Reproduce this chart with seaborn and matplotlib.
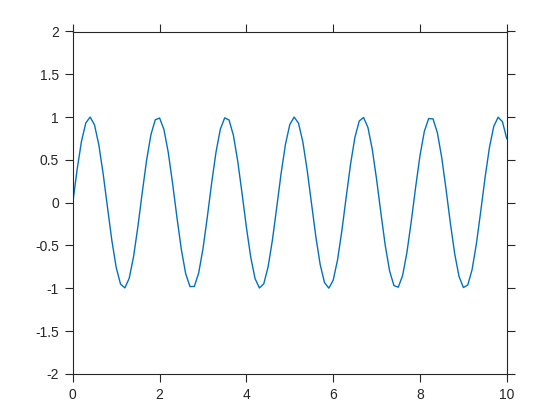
import numpy as np
import pandas as pd
import seaborn as sns
import matplotlib.pyplot as plt

x_vals = [
    0.0, 0.1, 0.2, 0.3, 0.4, 0.5, 0.6, 0.7, 0.8, 0.9,
    1.0, 1.1, 1.2, 1.3, 1.4, 1.5, 1.6, 1.7, 1.8, 1.9,
    2.0, 2.1, 2.2, 2.3, 2.4, 2.5, 2.6, 2.7, 2.8, 2.9,
    3.0, 3.1, 3.2, 3.3, 3.4, 3.5, 3.6, 3.7, 3.8, 3.9,
    4.0, 4.1, 4.2, 4.3, 4.4, 4.5, 4.6, 4.7, 4.8, 4.9,
    5.0, 5.1, 5.2, 5.3, 5.4, 5.5, 5.6, 5.7, 5.8, 5.9,
    6.0, 6.1, 6.2, 6.3, 6.4, 6.5, 6.6, 6.7, 6.8, 6.9,
    7.0, 7.1, 7.2, 7.3, 7.4, 7.5, 7.6, 7.7, 7.8, 7.9,
    8.0, 8.1, 8.2, 8.3, 8.4, 8.5, 8.6, 8.7, 8.8, 8.9,
    9.0, 9.1, 9.2, 9.3, 9.4, 9.5, 9.6, 9.7, 9.8, 9.9,
    10.0,
]
y_vals = [
    0.000, 0.389, 0.717, 0.932, 1.000, 0.909, 0.675, 0.335, -0.058, -0.443,
    -0.757, -0.952, -0.996, -0.883, -0.631, -0.279, 0.117, 0.494, 0.794, 0.968,
    0.989, 0.855, 0.585, 0.222, -0.174, -0.544, -0.828, -0.981, -0.979, -0.823,
    -0.537, -0.166, 0.232, 0.592, 0.860, 0.991, 0.966, 0.788, 0.486, 0.108,
    -0.288, -0.638, -0.888, -0.997, -0.949, -0.751, -0.435, -0.050, 0.343, 0.682,
    0.913, 1.000, 0.929, 0.711, 0.381, -0.009, -0.398, -0.724, -0.935, -0.999,
    -0.906, -0.669, -0.327, 0.067, 0.450, 0.762, 0.954, 0.995, 0.879, 0.624,
    0.271, -0.125, -0.502, -0.799, -0.970, -0.988, -0.850, -0.578, -0.214, 0.183,
    0.551, 0.833, 0.983, 0.978, 0.818, 0.529, 0.157, -0.240, -0.599, -0.864,
    -0.992, -0.963, -0.783, -0.479, -0.099, 0.296, 0.645, 0.892, 0.998, 0.946,
    0.745,
]
x_ticks = [0, 2, 4, 6, 8, 10]
y_ticks = [-2, -1.5, -1, -0.5, 0, 0.5, 1, 1.5, 2]
y_labels = ["-2", "-1.5", "-1", "-0.5", "0", "0.5", "1", "1.5", "2"]

df = pd.DataFrame({"x": x_vals, "y": y_vals})

sns.set_theme(style="ticks")
plt.rcParams["font.family"] = ["Liberation Sans", "DejaVu Sans"]
plt.rcParams["axes.unicode_minus"] = False

fig = plt.figure(figsize=(5.6, 4.2), dpi=100)
ax = fig.add_axes([0.13, 0.11, 0.775, 0.815])

sns.lineplot(data=df, x="x", y="y", ax=ax, color="#0072BD", linewidth=1.0)

ax.set_xlim(0, 10)
ax.set_ylim(-2, 2)
ax.set_xticks(x_ticks)
ax.set_xticklabels([str(t) for t in x_ticks])
ax.set_yticks(y_ticks)
ax.set_yticklabels(y_labels)
ax.set_xlabel("")
ax.set_ylabel("")

for s in ax.spines.values():
    s.set_visible(True)
    s.set_color("#262626")
    s.set_linewidth(0.8)

ax.tick_params(axis="both", direction="out", length=6, width=0.8,
               color="#262626", labelcolor="#262626", labelsize=10,
               top=True, right=True, labeltop=False, labelright=False, pad=4)

fig.savefig("out.png", dpi=100)
